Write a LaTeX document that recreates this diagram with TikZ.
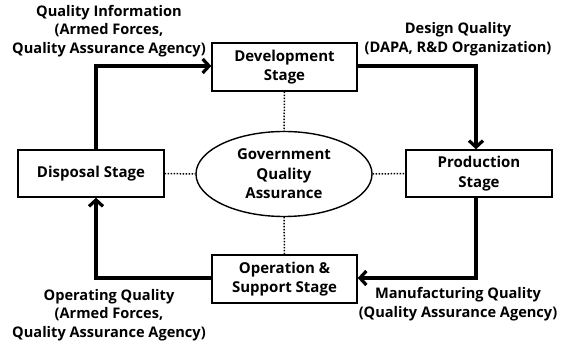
\documentclass[tikz,border=0pt]{standalone}
\usepackage{fontspec}
\setmainfont{Open Sans}
\usetikzlibrary{shapes.geometric,arrows.meta}
\begin{document}
\begin{tikzpicture}[x=1pt,y=1pt,
  every node/.style={font=\fontsize{14.6}{18.5}\selectfont\bfseries, align=center},
  stagebox/.style={draw, line width=1.4pt, inner sep=0pt, minimum width=145pt, minimum height=48pt, font=\fontsize{15}{19.5}\selectfont\bfseries},
  gqa/.style={draw, ellipse, line width=1.4pt, inner sep=0pt, minimum width=176pt, minimum height=85pt, font=\fontsize{15}{19.5}\selectfont\bfseries},
  flow/.style={line width=3.2pt, -{Straight Barb[length=6.5pt,width=14pt]}},
  dotline/.style={line width=1.5pt, dash pattern=on 1.5pt off 1.5pt},
  lbl/.style={inner sep=0pt}]
\useasboundingbox (0,0) rectangle (567,345);
\node[stagebox] (dev) at (284.5,278) {Development\\Stage};
\node[stagebox, minimum width=146pt, minimum height=47pt] (disp) at (91,171.5) {Disposal Stage};
\node[stagebox, minimum width=146pt, minimum height=47pt] (prod) at (479,171.5) {Production\\Stage};
\node[stagebox] (oper) at (284.5,66) {Operation \&\\Support Stage};
\node[gqa] (gqa) at (284,171) {Government\\Quality\\Assurance};

\node[lbl] (l1) at (109,314) {Quality Information\\(Armed Forces,\\Quality Assurance Agency)};
\node[lbl] (l2) at (458,306) {Design Quality\\(DAPA, R\&D Organization)};
\node[lbl] (l3) at (458,41) {Manufacturing Quality\\(Quality Assurance Agency)};
\node[lbl] (l4) at (109,30) {Operating Quality\\(Armed Forces,\\Quality Assurance Agency)};

\coordinate (dtop) at ([xshift=5pt]disp.north);
\coordinate (dbot) at ([xshift=5pt]disp.south);
\coordinate (ptop) at ([xshift=-3pt]prod.north);
\coordinate (pbot) at ([xshift=-3pt]prod.south);

\draw[flow] (dtop) |- ([yshift=1pt]dev.west);
\draw[flow] ([yshift=1pt]dev.east) -| (ptop);
\draw[flow] (pbot) |- ([yshift=1pt]oper.east);
\draw[flow] ([yshift=1pt]oper.west) -| (dbot);

\draw[dotline] (dev.south) -- (gqa.north);
\draw[dotline] (oper.north) -- (gqa.south);
\draw[dotline] (disp.east) -- (gqa.west);
\draw[dotline] (gqa.east) -- (prod.west);
\end{tikzpicture}
\end{document}
